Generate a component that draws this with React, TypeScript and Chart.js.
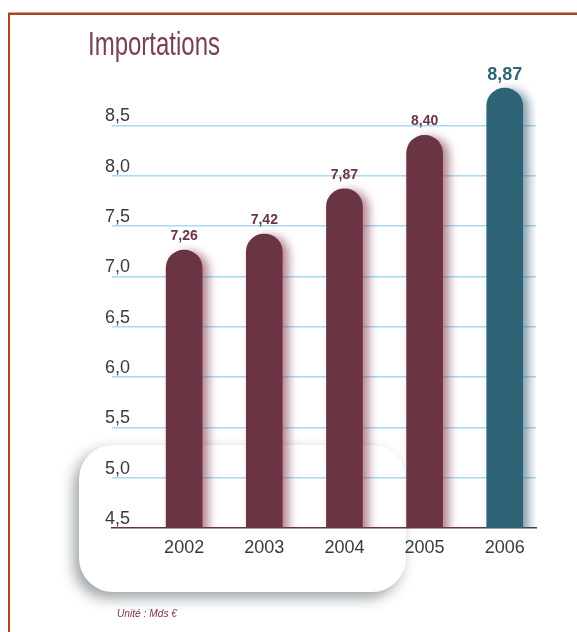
import { useEffect, useRef } from 'react';
import { Chart, registerables } from 'chart.js';

Chart.register(...registerables);

const YEARS = [2002, 2003, 2004, 2005, 2006];
const VALUES = [7.26, 7.42, 7.87, 8.4, 8.87];
const Y_TICKS = [4.5, 5.0, 5.5, 6.0, 6.5, 7.0, 7.5, 8.0, 8.5];
const HIGHLIGHT_INDEX = 4;
const TITLE = 'Importations';
const UNIT = 'Unité : Mds €';

const MAROON = '#6b3442';
const TEAL = '#2e6475';
const GRID_BLUE = '#a8daf2';
const FRAME = '#aa4520';

const fmt = (v: number, d: number) => v.toFixed(d).replace('.', ',');

const backgroundPlugin = {
  id: 'bgDecor',
  beforeDraw(chart: any) {
    const ctx = chart.ctx as CanvasRenderingContext2D;
    ctx.save();
    // frame
    ctx.fillStyle = FRAME;
    ctx.fillRect(8, 13, 2, 640);
    ctx.fillRect(8, 12.5, 600, 2.5);
    // rounded white card with shadow
    ctx.shadowColor = 'rgba(20,30,40,0.42)';
    ctx.shadowBlur = 14;
    ctx.shadowOffsetX = -5;
    ctx.shadowOffsetY = 6;
    ctx.fillStyle = '#ffffff';
    ctx.beginPath();
    (ctx as any).roundRect(79, 445, 327, 147, 34);
    ctx.fill();
    ctx.restore();

    // title
    ctx.save();
    ctx.font = '34px "Liberation Sans"';
    ctx.fillStyle = '#7a4054';
    ctx.textBaseline = 'alphabetic';
    const w = ctx.measureText(TITLE).width;
    ctx.translate(88, 55);
    ctx.scale(132 / w, 1);
    ctx.fillText(TITLE, 0, 0);
    ctx.restore();

    // unit
    ctx.save();
    ctx.font = 'italic 11px "Liberation Sans"';
    ctx.fillStyle = '#7a3545';
    const uw = ctx.measureText(UNIT).width;
    ctx.translate(117, 617);
    ctx.scale(60 / uw, 1);
    ctx.fillText(UNIT, 0, 0);
    ctx.restore();
  },
};

const shadowPlugin = {
  id: 'barShadow',
  beforeDatasetDraw(chart: any, args: any) {
    const ctx = chart.ctx as CanvasRenderingContext2D;
    const ds = chart.data.datasets[args.index];
    ctx.save();
    ctx.shadowColor = ds.shadowTint;
    ctx.shadowBlur = 10;
    ctx.shadowOffsetX = 6;
    ctx.shadowOffsetY = 2;
  },
  afterDatasetDraw(chart: any) {
    chart.ctx.restore();
  },
};

const valueLabelPlugin = {
  id: 'valueLabels',
  afterDatasetsDraw(chart: any) {
    const ctx = chart.ctx as CanvasRenderingContext2D;
    chart.data.datasets.forEach((ds: any, di: number) => {
      const meta = chart.getDatasetMeta(di);
      meta.data.forEach((el: any, i: number) => {
        const v = ds.data[i].y as number;
        ctx.save();
        ctx.font = `bold ${ds.labelSize}px "Liberation Sans"`;
        ctx.fillStyle = ds.labelColor;
        ctx.textAlign = 'center';
        ctx.textBaseline = 'alphabetic';
        ctx.fillText(fmt(v, 2), el.x, el.y - ds.labelGap);
        ctx.restore();
      });
    });
  },
};

export default function App() {
  const ref = useRef<HTMLCanvasElement | null>(null);

  useEffect(() => {
    if (!ref.current) return;
    const points = YEARS.map((x, i) => ({ x, y: VALUES[i] }));
    const normal = points.filter((_, i) => i !== HIGHLIGHT_INDEX);
    const highlight = points.filter((_, i) => i === HIGHLIGHT_INDEX);
    const common = {
      barThickness: 36,
      borderRadius: 18,
      borderSkipped: false,
      grouped: false,
    };
    const chart = new Chart(ref.current, {
      type: 'bar',
      data: {
        datasets: [
          {
            label: 'Importations',
            data: normal,
            backgroundColor: MAROON,
            shadowTint: 'rgba(130,50,75,0.6)',
            labelSize: 14,
            labelColor: '#6b3443',
            labelGap: 10,
            ...common,
          } as any,
          {
            label: 'Importations 2006',
            data: highlight,
            backgroundColor: TEAL,
            shadowTint: 'rgba(40,80,110,0.55)',
            labelSize: 18,
            labelColor: '#2f6577',
            labelGap: 8,
            ...common,
          } as any,
        ],
      },
      options: {
        animation: false,
        responsive: false,
        devicePixelRatio: 1,
        layout: { padding: { top: 75, right: 41, bottom: 64, left: 0 } },
        plugins: {
          legend: { display: false },
          tooltip: { enabled: false },
        },
        scales: {
          x: {
            type: 'linear',
            offset: false,
            min: 2001.1,
            max: 2006.39,
            afterBuildTicks: (s: any) => {
              s.ticks = YEARS.map((v) => ({ value: v }));
            },
            afterFit: (s: any) => {
              s.height = 40;
            },
            ticks: {
              callback: (v: any) => String(v),
              font: { family: '"Liberation Sans"', size: 18 },
              color: '#3a3a3a',
              padding: 9,
              autoSkip: false,
              maxRotation: 0,
            },
            grid: { display: false, drawTicks: false, offset: false },
            border: { display: true, color: MAROON, width: 1.5 },
          },
          y: {
            type: 'linear',
            min: 4.5,
            max: 9,
            afterBuildTicks: (s: any) => {
              s.ticks = Y_TICKS.map((v) => ({ value: v }));
            },
            afterFit: (s: any) => {
              s.width = 112;
            },
            ticks: {
              mirror: true,
              padding: -7,
              labelOffset: -9,
              callback: (v: any) => fmt(Number(v), 1),
              font: { family: '"Liberation Sans"', size: 18 },
              color: '#3a3a3a',
            },
            grid: {
              color: (c: any) => (c.tick && c.tick.value === 4.5 ? 'rgba(0,0,0,0)' : GRID_BLUE),
              lineWidth: 1.5,
              drawTicks: false,
            },
            border: { display: false },
          },
        },
      } as any,
      plugins: [backgroundPlugin, shadowPlugin, valueLabelPlugin],
    });
    return () => chart.destroy();
  }, []);

  return (
    <div style={{ position: 'fixed', left: 0, top: 0, width: 577, height: 632, background: '#fff' }}>
      <canvas ref={ref} width={577} height={632} style={{ display: 'block' }} />
    </div>
  );
}
